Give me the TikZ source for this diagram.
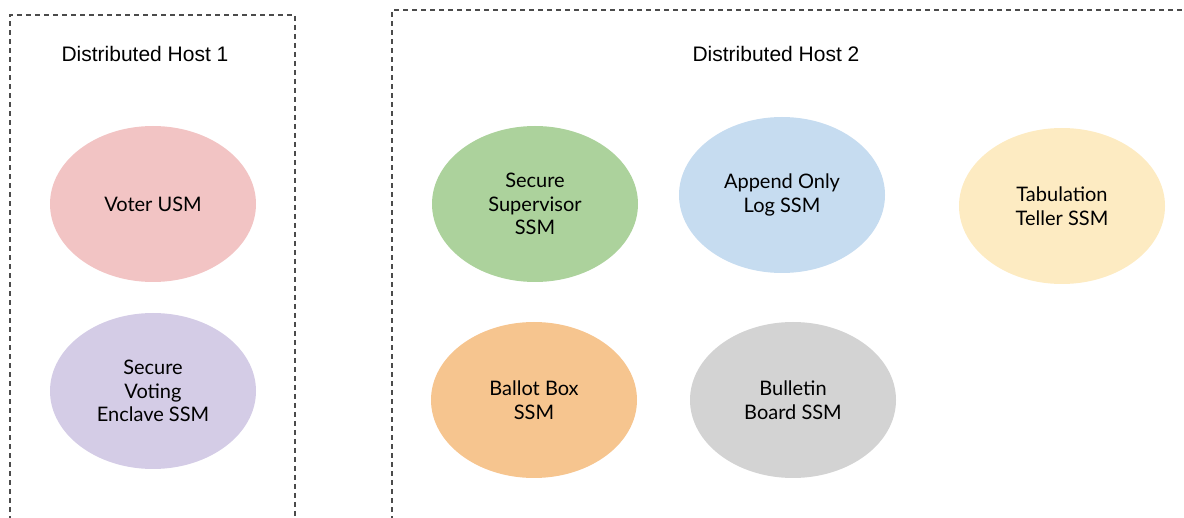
\documentclass[tikz,border=0pt]{standalone}
\usepackage{fontspec}
\setmainfont{Lato}
\newfontfamily\titlefont{Liberation Sans}
\usetikzlibrary{shapes.geometric}
\definecolor{voterpink}{RGB}{242,196,196}
\definecolor{enclavepurple}{RGB}{212,204,230}
\definecolor{supgreen}{RGB}{172,210,156}
\definecolor{logblue}{RGB}{198,220,240}
\definecolor{tellyellow}{RGB}{253,235,194}
\definecolor{boxorange}{RGB}{246,197,143}
\definecolor{boardgray}{RGB}{211,211,211}
\definecolor{dashgray}{RGB}{75,75,75}
\begin{document}
\begin{tikzpicture}[x=1pt, y=-1pt]
\tikzstyle{module} = [ellipse, draw=none, minimum width=206pt, minimum height=156pt, inner sep=0pt, align=center, text=black, font=\fontsize{20}{23.5}\selectfont];
\tikzstyle{hostbox} = [draw=dashgray, line width=1.5pt, dash pattern=on 5pt off 4pt];
\tikzstyle{hosttitle} = [font=\titlefont\fontsize{21}{25}\selectfont, text=black];
\useasboundingbox (0, 0) rectangle (1184, 518);
\clip (0, 0) rectangle (1184, 518);
% hosts
\draw[hostbox] (10, 530) -- (10, 15) -- (295, 15) -- (295, 530);
\draw[hostbox] (392, 530) -- (392, 10) -- (1200, 10);
\node[hosttitle] (h1) at (145, 54) {Distributed Host 1};
\node[hosttitle] (h2) at (776, 54) {Distributed Host 2};
% host 1
\node[module, fill=voterpink] (voter) at (153, 204) {Voter USM};
\node[module, fill=enclavepurple] (enclave) at (153, 391) {Secure\\Voting\\Enclave SSM};
% host 2
\node[module, fill=supgreen] (sup) at (535, 204) {Secure\\Supervisor\\SSM};
\node[module, fill=logblue] (log) at (782, 195) {Append Only\\Log SSM};
\node[module, fill=tellyellow] (teller) at (1062, 206) {Tabulation\\Teller SSM};
\node[module, fill=boxorange] (ballot) at (534, 400) {Ballot Box\\SSM};
\node[module, fill=boardgray] (board) at (793, 400) {Bulletin\\Board SSM};
\end{tikzpicture}
\end{document}
